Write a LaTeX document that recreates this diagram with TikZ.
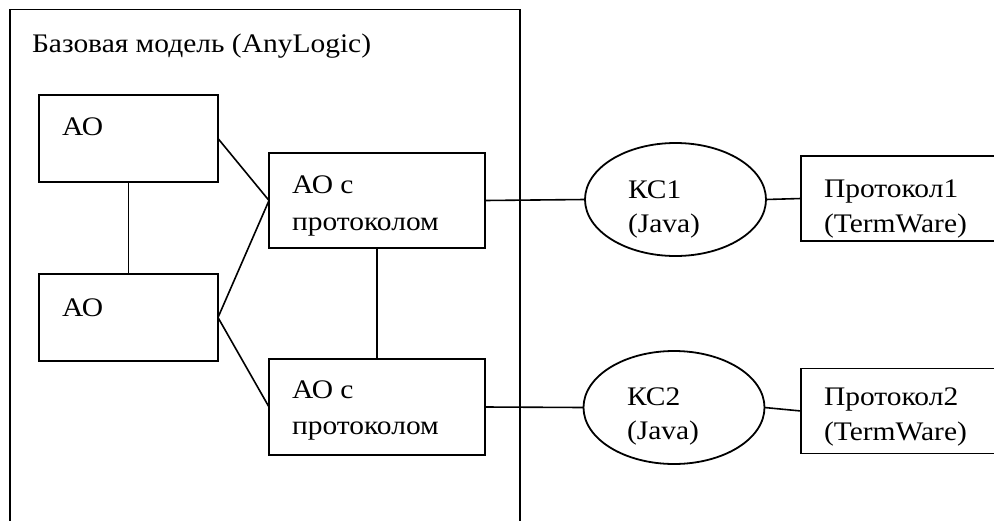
\documentclass[tikz,border=0pt]{standalone}
\usepackage{fontspec}
\setmainfont{Liberation Serif}[FakeStretch=1.1]
\usetikzlibrary{shapes.geometric}
\begin{document}
\begin{tikzpicture}[x=1pt,y=-1pt,
  every node/.style={inner sep=0pt,outer sep=0pt},
  box/.style={draw,line width=1.8pt,rectangle},
  oval/.style={draw,line width=1.8pt,ellipse,minimum width=181,minimum height=113},
  txt/.style={anchor=base west,font=\fontsize{26.8}{34}\selectfont},
  conn/.style={line width=1.6pt}]
\useasboundingbox (0,0) rectangle (994,520);
% outer frame (open at bottom)
\draw[line width=1.8pt] (10,540) -- (10,9.5) -- (520,9.5) -- (520,540);
\node[txt] (title) at (32,52) {Базовая модель (AnyLogic)};
% boxes
\node[box,minimum width=179,minimum height=87] (ao1) at (128.5,138.5) {};
\node[box,minimum width=179,minimum height=87] (ao2) at (128.5,317.5) {};
\node[box,minimum width=216,minimum height=95] (ap1) at (377,200.5) {};
\node[box,minimum width=216,minimum height=96] (ap2) at (377,407) {};
\node[oval] (ks1) at (675.5,199.5) {};
\node[oval] (ks2) at (674,407.5) {};
\node[box,minimum width=200,minimum height=85] (pr1) at (901,198.5) {};
\node[box,minimum width=200,minimum height=85] (pr2) at (901,411) {};
% texts
\node[txt] (t1) at (62,135) {АО};
\node[txt] (t2) at (62,316) {АО};
\node[txt] (t3a) at (292,193) {АО с};
\node[txt] (t3b) at (292,230) {протоколом};
\node[txt] (t4a) at (292,398) {АО с};
\node[txt] (t4b) at (292,434) {протоколом};
\node[txt] (t5a) at (628,198) {КС1};
\node[txt] (t5b) at (628,232) {(Java)};
\node[txt] (t6a) at (627,405) {КС2};
\node[txt] (t6b) at (627,439) {(Java)};
\node[txt] (t7a) at (824,197) {Протокол1};
\node[txt] (t7b) at (824,232) {(TermWare)};
\node[txt] (t8a) at (824,405) {Протокол2};
\node[txt] (t8b) at (824,440) {(TermWare)};
% connectors
\draw[conn] (ao1.south) -- (ao2.north);
\draw[conn] (ap1.south) -- (ap2.north);
\draw[conn] (ao1.east) -- (ap1.west);
\draw[conn] (ao2.east) -- (ap1.west);
\draw[conn] (ao2.east) -- (ap2.west);
\draw[conn] (ap1.east) -- (ks1.west);
\draw[conn] (ap2.east) -- (ks2.west);
\draw[conn] (ks1.east) -- (pr1.west);
\draw[conn] (ks2.east) -- (pr2.west);
\end{tikzpicture}
\end{document}
